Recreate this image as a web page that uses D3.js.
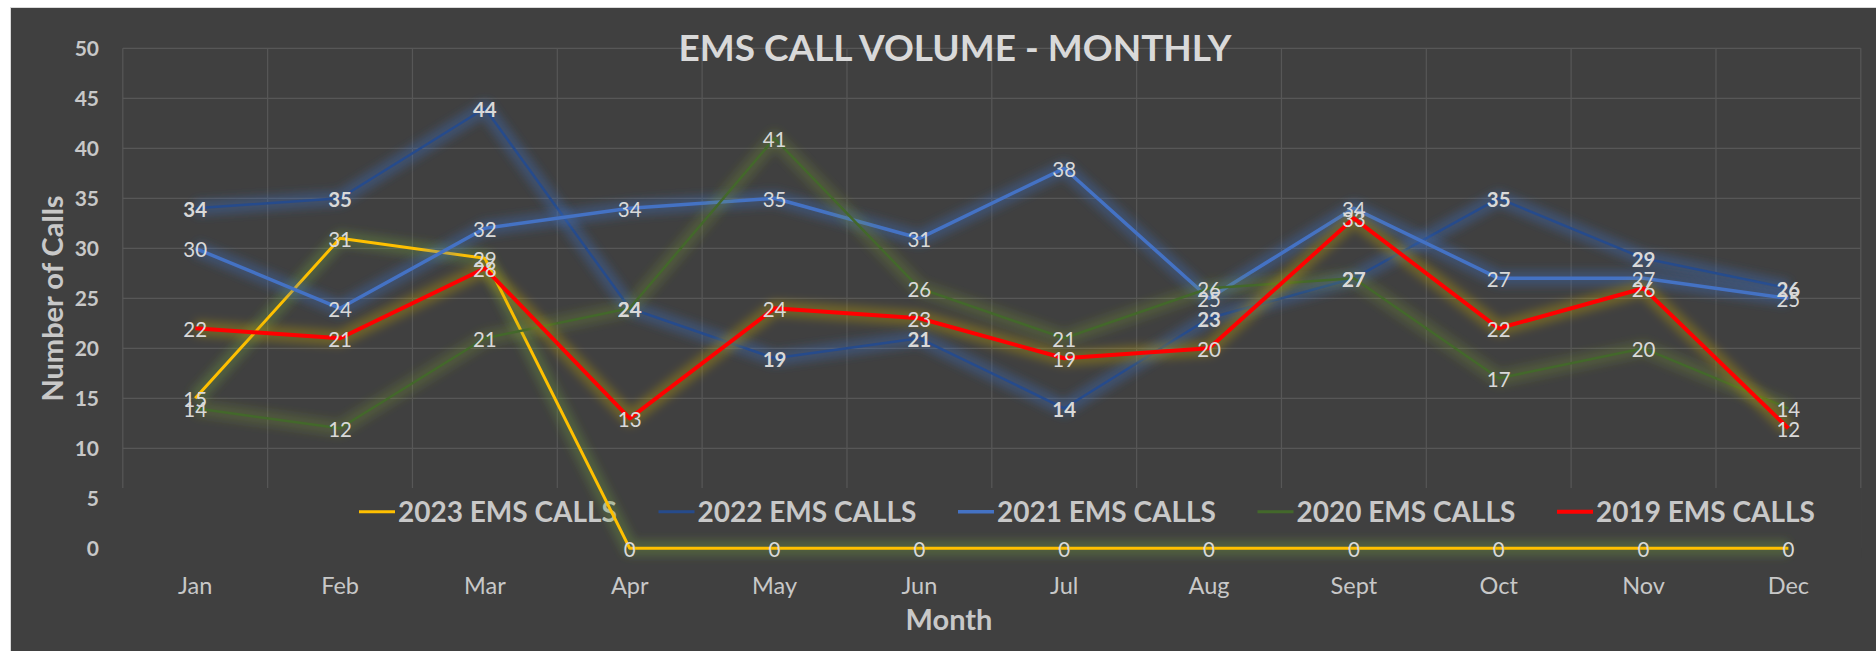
<!DOCTYPE html>
<html>
<head>
<meta charset="utf-8">
<script src="https://cdn.jsdelivr.net/npm/d3@7"></script>
<style>
  html, body { margin: 0; padding: 0; background: #ffffff; }
  svg { display: block; font-family: 'Lato', 'Open Sans', sans-serif; }
</style>
</head>
<body>
<svg id="chart"></svg>
<script>
// Monthly EMS call counts, one array per year
const months = ['Jan', 'Feb', 'Mar', 'Apr', 'May', 'Jun', 'Jul', 'Aug', 'Sept', 'Oct', 'Nov', 'Dec'];
const calls2023 = [15, 31, 29, 0, 0, 0, 0, 0, 0, 0, 0, 0];
const calls2022 = [34, 35, 44, 24, 19, 21, 14, 23, 27, 35, 29, 26];
const calls2021 = [30, 24, 32, 34, 35, 31, 38, 25, 34, 27, 27, 25];
const calls2020 = [14, 12, 21, 24, 41, 26, 21, 26, 27, 17, 20, 14];
const calls2019 = [22, 21, 28, 13, 24, 23, 19, 20, 33, 22, 26, 12];
const seriesNames = ['2023 EMS CALLS', '2022 EMS CALLS', '2021 EMS CALLS', '2020 EMS CALLS', '2019 EMS CALLS'];
const yTicks = [0, 5, 10, 15, 20, 25, 30, 35, 40, 45, 50];

const series = [
  { name: seriesNames[0], values: calls2023, color: '#FFC000', glow: '#6E9A3C', glowOpacity: 0.35, width: 3, bold: false },
  { name: seriesNames[1], values: calls2022, color: '#264B8C', glow: '#3F6FC4', glowOpacity: 0.35, width: 2.5, bold: true },
  { name: seriesNames[2], values: calls2021, color: '#4472C4', glow: '#3F6FC4', glowOpacity: 0.35, width: 3.5, bold: false },
  { name: seriesNames[3], values: calls2020, color: '#43682B', glow: '#7A9A30', glowOpacity: 0.25, width: 2.5, bold: false },
  { name: seriesNames[4], values: calls2019, color: '#FF0000', glow: '#BFA000', glowOpacity: 0.35, width: 4, bold: false }
];

const width = 1876;
const height = 651;
const margin = { top: 48.3, right: 15.2, bottom: 102.7, left: 122.8 };
const textColor = '#D9D9D9';
const axisColor = '#C8C8C8';

const svg = d3.select('#chart')
  .attr('width', width)
  .attr('height', height)
  .attr('viewBox', `0 0 ${width} ${height}`);

svg.append('defs').append('filter')
  .attr('id', 'glow')
  .attr('x', '-20%').attr('y', '-20%')
  .attr('width', '140%').attr('height', '140%')
  .append('feGaussianBlur')
  .attr('stdDeviation', 4);

// Chart background
svg.append('rect')
  .attr('x', 10.5).attr('y', 7.5)
  .attr('width', width - 10).attr('height', height - 7)
  .attr('fill', '#404040')
  .attr('stroke', '#D9D9D9')
  .attr('stroke-width', 1);

const x = d3.scaleBand()
  .domain(months)
  .range([margin.left, width - margin.right])
  .padding(0);

const y = d3.scaleLinear()
  .domain([0, 50])
  .range([height - margin.bottom, margin.top]);

const cx = d => x(d) + x.bandwidth() / 2;

// Gridlines
const grid = svg.append('g').attr('stroke', '#575757').attr('stroke-width', 1.2);
grid.selectAll('.hgrid')
  .data(yTicks)
  .join('line')
  .attr('x1', margin.left).attr('x2', width - margin.right)
  .attr('y1', d => y(d)).attr('y2', d => y(d));
grid.selectAll('.vgrid')
  .data(months.concat(['end']))
  .join('line')
  .attr('x1', (d, i) => margin.left + i * x.bandwidth())
  .attr('x2', (d, i) => margin.left + i * x.bandwidth())
  .attr('y1', margin.top).attr('y2', y(0));

// Legend sits inside the plot, its box hides the lower gridlines
svg.append('rect')
  .attr('x', margin.left - 1).attr('y', 488)
  .attr('width', width - margin.right - margin.left + 2).attr('height', 70)
  .attr('fill', '#404040');

const legend = svg.append('g');
const legendItem = legend.selectAll('g')
  .data(series)
  .join('g')
  .attr('transform', (d, i) => `translate(${359 + i * 299.5},511.7)`);
legendItem.append('line')
  .attr('x1', 0).attr('x2', 36)
  .attr('stroke', d => d.color)
  .attr('stroke-width', d => Math.max(3, d.width));
legendItem.append('text')
  .attr('x', 39).attr('y', 10)
  .attr('font-size', '28px')
  .attr('font-weight', 700)
  .attr('fill', axisColor)
  .text(d => d.name);

// Series: glow then line
const line = d3.line()
  .x((d, i) => cx(months[i]))
  .y(d => y(d));

const seriesG = svg.append('g');
series.forEach(s => {
  seriesG.append('path')
    .attr('d', line(s.values))
    .attr('fill', 'none')
    .attr('stroke', s.glow)
    .attr('stroke-opacity', s.glowOpacity)
    .attr('stroke-width', 16)
    .attr('stroke-linejoin', 'round')
    .attr('filter', 'url(#glow)');
  seriesG.append('path')
    .attr('d', line(s.values))
    .attr('fill', 'none')
    .attr('stroke', s.color)
    .attr('stroke-width', s.width)
    .attr('stroke-linejoin', 'round');
});

// Data labels
series.forEach(s => {
  svg.append('g').selectAll('text')
    .data(s.values)
    .join('text')
    .attr('x', (d, i) => cx(months[i]))
    .attr('y', d => y(d) + 9)
    .attr('text-anchor', 'middle')
    .attr('font-size', '20.5px')
    .attr('font-weight', s.bold ? 700 : 400)
    .attr('fill', textColor)
    .text(d => d);
});

// Y axis tick labels
svg.append('g').selectAll('text')
  .data(yTicks)
  .join('text')
  .attr('x', 99)
  .attr('y', d => y(d) + 7.5)
  .attr('text-anchor', 'end')
  .attr('font-size', '21px')
  .attr('font-weight', 700)
  .attr('fill', axisColor)
  .text(d => d);

// X axis tick labels
svg.append('g').selectAll('text')
  .data(months)
  .join('text')
  .attr('x', d => cx(d))
  .attr('y', 594)
  .attr('text-anchor', 'middle')
  .attr('font-size', '23.5px')
  .attr('fill', axisColor)
  .text(d => d);

// Titles
svg.append('text')
  .attr('x', 955).attr('y', 60.5)
  .attr('text-anchor', 'middle')
  .attr('font-size', '37px')
  .attr('font-weight', 700)
  .attr('fill', textColor)
  .text('EMS CALL VOLUME - MONTHLY');

svg.append('text')
  .attr('x', 949).attr('y', 630)
  .attr('text-anchor', 'middle')
  .attr('font-size', '29px')
  .attr('font-weight', 700)
  .attr('fill', axisColor)
  .text('Month');

svg.append('text')
  .attr('transform', 'translate(62.5,298.5) rotate(-90)')
  .attr('text-anchor', 'middle')
  .attr('font-size', '29px')
  .attr('font-weight', 700)
  .attr('fill', axisColor)
  .text('Number of Calls');
</script>
</body>
</html>
